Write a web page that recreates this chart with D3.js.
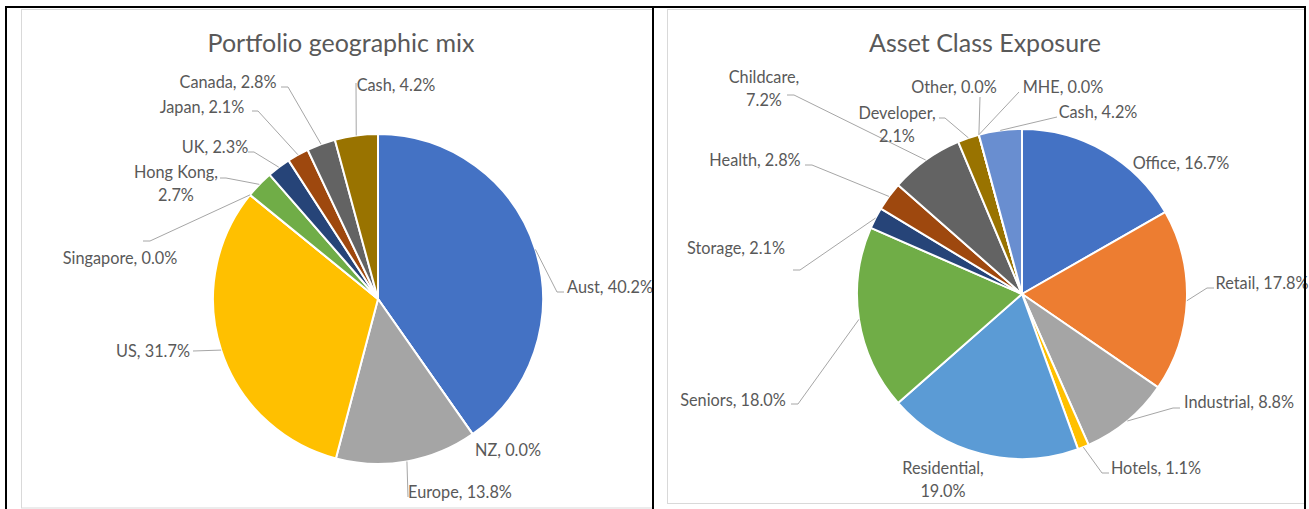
<!DOCTYPE html>
<html>
<head>
<meta charset="utf-8">
<script src="https://cdn.jsdelivr.net/npm/d3@7"></script>
<style>
  body { margin: 0; background: #ffffff; }
  svg text { font-family: Lato, "Open Sans", sans-serif; fill: #595959; }
</style>
</head>
<body>
<svg id="chart" width="1309" height="509"></svg>
<script>
// geographic mix
var geoNames = ["Aust", "NZ", "Europe", "US", "Singapore", "Hong Kong", "UK", "Japan", "Canada", "Cash"];
var geoValues = [40.2, 0.0, 13.8, 31.7, 0.0, 2.7, 2.3, 2.1, 2.8, 4.2];
var geoColors = ["#4472C4", "#ED7D31", "#A5A5A5", "#FFC000", "#5B9BD5", "#70AD47", "#264478", "#9E480E", "#636363", "#997300"];

// asset class exposure
var assetNames = ["Office", "Retail", "Industrial", "Hotels", "Residential", "Seniors", "Storage", "Health", "Childcare", "Developer", "Other", "MHE", "Cash"];
var assetValues = [16.7, 17.8, 8.8, 1.1, 19.0, 18.0, 2.1, 2.8, 7.2, 2.1, 0.0, 0.0, 4.2];
var assetColors = ["#4472C4", "#ED7D31", "#A5A5A5", "#FFC000", "#5B9BD5", "#70AD47", "#264478", "#9E480E", "#636363", "#997300", "#255E91", "#43682B", "#698ED0"];

// label placement, relative to the pie centre (text centre, leader elbow, tick)
var geoLayout = {
  "Aust":      { tx: 232, ty: -12, lead: [179, -7], tick: 7 },
  "NZ":        { tx: 130, ty: 151 },
  "Europe":    { tx: 82,  ty: 193, lead: [30, 198], tick: 0 },
  "US":        { tx: -225, ty: 52, lead: [-185, 52], tick: 0 },
  "Singapore": { tx: -258, ty: -41, lead: [-228, -58], tick: -7 },
  "Hong Kong": { tx: -202, ty: -115, lead: [-152, -121], tick: -6, wrap: true },
  "UK":        { tx: -163, ty: -152, lead: [-124, -147], tick: -6 },
  "Japan":     { tx: -176, ty: -192, lead: [-120, -188], tick: -6 },
  "Canada":    { tx: -150, ty: -217, lead: [-90, -212], tick: -7 },
  "Cash":      { tx: 18,  ty: -214, lead: [-22, -216], tick: 0 }
};

var assetLayout = {
  "Office":      { tx: 159, ty: -131 },
  "Retail":      { tx: 240, ty: -11, lead: [185, -6], tick: 7 },
  "Industrial":  { tx: 217, ty: 108, lead: [151, 114], tick: 7 },
  "Hotels":      { tx: 134, ty: 174, lead: [80, 179], tick: 7 },
  "Residential": { tx: -79, ty: 186, wrap: true },
  "Seniors":     { tx: -289, ty: 106, lead: [-224, 110], tick: -7 },
  "Storage":     { tx: -286, ty: -46, lead: [-222, -24], tick: -7 },
  "Health":      { tx: -267, ty: -134, lead: [-210, -129], tick: -7 },
  "Childcare":   { tx: -258, ty: -205, lead: [-228, -199], tick: -7, wrap: true },
  "Developer":   { tx: -125, ty: -169, lead: [-77, -176], tick: -6, wrap: true },
  "Other":       { tx: -68, ty: -207, lead: [-42, -197], tick: 0 },
  "MHE":         { tx: 41,  ty: -207, lead: [-3, -202], tick: 0 },
  "Cash":        { tx: 76,  ty: -182, lead: [35, -177], tick: 0 }
};

var svg = d3.select("#chart");

// chart area frames
svg.append("rect").attr("x", 21.5).attr("y", 9.5).attr("width", 631).attr("height", 498.5)
  .attr("fill", "#ffffff").attr("stroke", "#D9D9D9");
svg.append("rect").attr("x", 667.5).attr("y", 9.5).attr("width", 637).attr("height", 494)
  .attr("fill", "#ffffff").attr("stroke", "#D9D9D9");

function drawPie(opts) {
  var radius = 165;
  var g = svg.append("g").attr("transform", "translate(" + opts.cx + "," + opts.cy + ")");

  var pie = d3.pie().value(function (d) { return d.value; }).sort(null);
  var arc = d3.arc().innerRadius(0).outerRadius(radius);

  var data = opts.names.map(function (n, i) {
    return { name: n, value: opts.values[i], color: opts.colors[i] };
  });
  var arcs = pie(data);

  g.selectAll("path.slice")
    .data(arcs)
    .join("path")
    .attr("class", "slice")
    .attr("d", arc)
    .style("fill", function (d) { return d.data.color; })
    .style("stroke", "#ffffff")
    .style("stroke-width", 2)
    .style("stroke-linejoin", "round");

  // leader lines
  g.selectAll("polyline.leader")
    .data(arcs.filter(function (d) { return opts.layout[d.data.name].lead; }))
    .join("polyline")
    .attr("class", "leader")
    .attr("points", function (d) {
      var l = opts.layout[d.data.name];
      var mid = (d.startAngle + d.endAngle) / 2;
      var p0 = [Math.sin(mid) * radius, -Math.cos(mid) * radius];
      var p2 = [l.lead[0] + l.tick, l.lead[1]];
      return [p0, l.lead, p2].map(function (p) { return p.join(","); }).join(" ");
    })
    .style("fill", "none")
    .style("stroke", "#A6A6A6")
    .style("stroke-width", 1);

  // data labels
  var labels = g.selectAll("text.label")
    .data(arcs)
    .join("text")
    .attr("class", "label")
    .attr("text-anchor", "middle")
    .attr("font-size", "16.3px");

  labels.each(function (d) {
    var l = opts.layout[d.data.name];
    var t = d3.select(this);
    var pct = d.data.value.toFixed(1) + "%";
    if (l.wrap) {
      t.append("tspan").attr("x", l.tx).attr("y", l.ty - 11.5).attr("dy", "0.35em").text(d.data.name + ",");
      t.append("tspan").attr("x", l.tx).attr("y", l.ty + 11.5).attr("dy", "0.35em").text(pct);
    } else {
      t.append("tspan").attr("x", l.tx).attr("y", l.ty).attr("dy", "0.35em").text(d.data.name + ", " + pct);
    }
  });

  svg.append("text")
    .attr("x", opts.titleX)
    .attr("y", 43)
    .attr("dy", "0.35em")
    .attr("text-anchor", "middle")
    .attr("font-size", "25px")
    .text(opts.title);
}

drawPie({ cx: 378, cy: 299, names: geoNames, values: geoValues, colors: geoColors,
  layout: geoLayout, title: "Portfolio geographic mix", titleX: 341 });
drawPie({ cx: 1022, cy: 294, names: assetNames, values: assetValues, colors: assetColors,
  layout: assetLayout, title: "Asset Class Exposure", titleX: 985 });

// outer black frame lines
var frame = [
  [[5, 7], [1306, 7]],
  [[6, 6], [6, 509]],
  [[653, 6], [653, 509]],
  [[1305, 6], [1305, 509]]
];
svg.selectAll("line.frame")
  .data(frame)
  .join("line")
  .attr("class", "frame")
  .attr("x1", function (d) { return d[0][0]; })
  .attr("y1", function (d) { return d[0][1]; })
  .attr("x2", function (d) { return d[1][0]; })
  .attr("y2", function (d) { return d[1][1]; })
  .style("stroke", "#000000")
  .style("stroke-width", 2);
</script>
</body>
</html>
